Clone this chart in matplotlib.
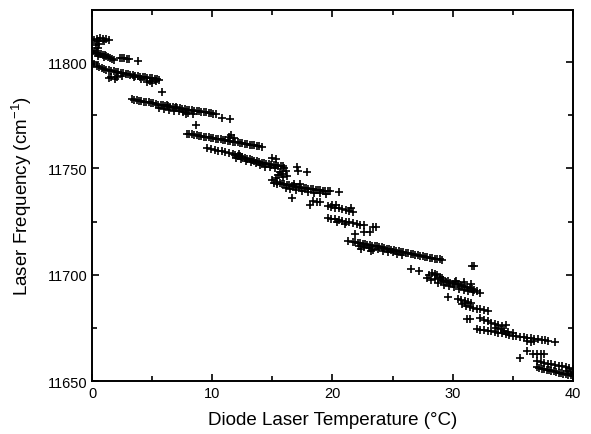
import numpy as np
import matplotlib.pyplot as plt
from matplotlib.ticker import MultipleLocator

plt.rcParams['font.family'] = ['Liberation Sans', 'DejaVu Sans']

# Temperatura (C) y frecuencia (cm-1) por tramo de sintonia
temp_a = [0.2, 0.4, 0.5, 0.7, 0.9, 1.0, 1.2, 1.4, 0.3, 0.6, 0.5]
freq_a = [11810.5, 11811, 11810, 11811.5, 11811, 11810, 11811, 11810.5, 11808, 11808.5, 11806.5]

temp_b = [0.0, 0.15, 0.3, 0.45, 0.6, 0.75, 0.9, 1.05, 1.2, 1.35, 1.5, 1.65, 1.8, 0.5, 1.0,
          2.3, 2.5, 2.7, 2.9, 3.1, 3.8]
freq_b = [11805, 11805, 11804.5, 11804.5, 11804, 11804, 11803.5, 11803.5, 11803, 11802.5, 11802,
          11801.5, 11801, 11803, 11802.5, 11802, 11802, 11801.8, 11801.5, 11801.5, 11800.5]

temp_c = [0.2, 0.4, 0.6, 0.8, 1.0, 1.2, 1.4, 1.6, 1.8, 2.0, 2.2, 2.4, 2.6, 2.8, 3.0, 3.2, 3.4, 3.6,
          3.8, 4.0, 4.2, 4.4, 4.6, 4.8, 5.0, 5.2, 5.4, 5.6,
          1.4, 1.6, 1.9, 2.1, 2.5, 3.5, 4.1, 4.6, 4.8, 5.0, 5.3, 5.8]
freq_c = [11799, 11798, 11797.5, 11797, 11796.8, 11796.5, 11796.2, 11796, 11795.8, 11795.5,
          11795.3, 11795, 11794.8, 11794.5, 11794.3, 11794, 11793.8, 11793.5, 11793.3, 11793.2,
          11793, 11792.8, 11792.6, 11792.5, 11792.3, 11792.2, 11792, 11791.8,
          11792.5, 11793, 11792, 11792.8, 11793.5, 11792.8, 11792, 11790.5, 11791, 11790, 11791.2,
          11786]

temp_d = [3.3, 3.5, 3.7, 3.9, 4.1, 4.3, 4.5, 4.7, 4.9, 5.1, 5.3, 5.5, 5.7, 5.9, 6.1, 6.3, 6.5, 6.7,
          6.9, 7.1, 7.3, 7.5, 7.7, 7.9, 8.1, 8.3, 8.5, 8.7, 8.9, 9.1, 9.3, 9.5, 9.7, 9.9, 10.1, 10.3,
          5.6, 6.0, 6.4, 6.8, 7.2, 7.6, 8.0, 8.4, 6.2, 7.0, 7.8, 10.8, 11.5, 8.65]
freq_d = [11782.5, 11782.3, 11782, 11781.8, 11781.6, 11781.4, 11781.2, 11781, 11780.8, 11780.6,
          11780.3, 11780, 11779.8, 11779.6, 11779.4, 11779.2, 11779, 11778.8, 11778.6, 11778.4,
          11778.2, 11778, 11777.8, 11777.6, 11777.5, 11777.3, 11777.2, 11777, 11776.8, 11776.7,
          11776.5, 11776.3, 11776.2, 11776, 11775.8, 11775.6,
          11778.5, 11778, 11777.5, 11777.2, 11776.8, 11776.5, 11776, 11775.5, 11779.8, 11779,
          11775.8, 11773.7, 11773.2, 11770.4]

temp_e = [7.9, 8.1, 8.3, 8.5, 8.7, 8.9, 9.1, 9.3, 9.5, 9.7, 9.9, 10.1, 10.3, 10.5, 10.7, 10.9,
          11.1, 11.3, 11.5, 11.7, 11.9, 12.1, 12.3, 12.5, 12.7, 12.9, 13.1, 13.3, 13.5, 13.7, 13.9,
          14.1, 11.4, 11.6, 11.8]
freq_e = [11766.3, 11766.1, 11766, 11765.8, 11765.6, 11765.4, 11765.2, 11765, 11764.8, 11764.6,
          11764.4, 11764.2, 11764, 11763.8, 11763.6, 11763.4, 11763.2, 11763, 11762.8, 11762.6,
          11762.4, 11762.2, 11762, 11761.8, 11761.6, 11761.4, 11761.2, 11761, 11760.8, 11760.7,
          11760.5, 11760.3, 11765, 11765.5, 11764.5]

temp_f = [9.6, 9.9, 10.2, 10.5, 10.8, 11.1, 11.4, 11.7, 11.9, 12.1, 12.3, 12.5, 12.7, 12.9, 13.1,
          13.3, 13.5, 13.7, 13.9, 14.1, 14.3, 14.5, 14.7, 14.9, 15.1, 15.3, 15.5, 15.7, 15.9,
          12.0, 12.4, 12.8, 13.2, 13.6, 14.0, 14.4, 14.8, 15.2, 12.2, 15.0, 15.3,
          17.05, 17.1, 17.9]
freq_f = [11759.8, 11759.3, 11758.8, 11758.4, 11758, 11757.6, 11757.2, 11756.8, 11756.4, 11756,
          11755.6, 11755.3, 11755, 11754.6, 11754.3, 11754, 11753.6, 11753.3, 11753, 11752.7,
          11752.4, 11752.2, 11752, 11751.8, 11751.6, 11751.4, 11751.2, 11751.1, 11751,
          11755, 11754.5, 11753.5, 11752.8, 11752.5, 11751.5, 11750.8, 11750.5, 11750.2, 11757,
          11755, 11754.5, 11750.7, 11748.8, 11748.3]

temp_g = [15.0, 15.1, 15.3, 15.5, 15.6, 15.8, 15.9, 16.1, 16.2, 15.4, 16.0]
freq_g = [11744.5, 11743, 11745.5, 11747, 11748.5, 11747.5, 11746, 11749, 11746.5, 11742.5, 11750]

temp_h = [15.4, 15.6, 15.8, 16.0, 16.2, 16.4, 16.6, 16.8, 17.0, 17.2, 17.4, 17.6, 17.8, 18.0, 18.2,
          18.4, 18.6, 18.8, 19.0, 19.2, 19.4, 19.6, 19.8, 20.5,
          16.1, 16.5, 17.0, 17.5, 18.0, 18.5, 19.0, 19.5, 16.8, 17.3,
          16.6, 18.1, 18.4, 18.7, 19.0]
freq_h = [11743.5, 11743, 11742.7, 11742.5, 11742.2, 11742, 11741.8, 11741.6, 11741.4, 11741.2,
          11741, 11740.8, 11740.7, 11740.5, 11740.3, 11740.2, 11740, 11739.9, 11739.7, 11739.6,
          11739.5, 11739.3, 11739.2, 11739,
          11741, 11740.5, 11740, 11739.5, 11739, 11738.5, 11738.3, 11738, 11742.8, 11742.5,
          11736, 11732.8, 11734.5, 11734.2, 11734.3]

temp_i = [19.6, 19.9, 20.2, 20.5, 20.8, 21.1, 21.4, 21.7, 20.3, 21.5, 20.0]
freq_i = [11732.3, 11731.8, 11731.5, 11731.2, 11731, 11730.5, 11730, 11729.5, 11733, 11731.3, 11732.8]

temp_j = [19.6, 19.9, 20.2, 20.5, 20.8, 21.1, 21.4, 21.7, 22.0, 22.3, 22.6, 20.4, 21.0,
          23.4, 23.6, 21.9, 22.6, 23.1, 21.3]
freq_j = [11726.7, 11726.3, 11726, 11725.6, 11725.3, 11725, 11724.6, 11724.2, 11723.9, 11723.6,
          11723.3, 11724.8, 11724, 11722.6, 11722.3, 11719, 11720, 11720, 11715.8]

temp_k = [21.7, 21.9, 22.1, 22.3, 22.5, 22.7, 22.9, 23.1, 23.3, 23.5, 23.7, 23.9, 24.1, 24.3, 24.5,
          24.7, 24.9, 25.1, 25.3, 25.5, 25.7, 25.9, 26.1, 26.3, 26.5, 26.7, 26.9, 27.1, 27.3, 27.5,
          27.7, 27.9, 28.1, 28.3, 28.5, 28.7, 28.9, 29.1,
          22.2, 22.6, 23.0, 23.4, 23.8, 24.2, 24.6, 25.0, 25.4, 25.8, 22.4, 23.2,
          26.5, 27.2, 31.6, 31.8]
freq_k = [11715.4, 11715.2, 11715, 11714.8, 11714.6, 11714.3, 11714.1, 11713.9, 11713.7, 11713.5,
          11713.3, 11713, 11712.8, 11712.5, 11712.3, 11712, 11711.8, 11711.6, 11711.3, 11711,
          11710.8, 11710.6, 11710.3, 11710.1, 11709.9, 11709.7, 11709.5, 11709.2, 11709, 11708.8,
          11708.5, 11708.3, 11708, 11707.8, 11707.6, 11707.4, 11707.2, 11707,
          11713.5, 11712.8, 11712.5, 11711.8, 11712, 11711, 11710.8, 11710.5, 11709.8, 11709.5,
          11712, 11711, 11702.7, 11701.7, 11704, 11704.3]

temp_l = [27.9, 28.2, 28.0, 28.3, 28.5, 28.7, 28.5, 28.9, 29.0, 28.8, 29.2, 29.4, 29.6, 29.8, 30.0,
          30.2, 30.4, 30.6, 30.8, 31.0, 31.2, 31.4, 31.6, 31.8, 32.0, 32.3, 29.3, 29.7, 30.1, 30.5,
          30.9, 31.3, 31.7, 29.1, 30.3, 30.9, 31.5, 29.6]
freq_l = [11698.5, 11697.5, 11700, 11701, 11700.5, 11699.8, 11698, 11699, 11697, 11696, 11697.5,
          11696.5, 11697, 11696, 11695.8, 11696.5, 11695.5, 11695, 11694.5, 11694.2, 11694,
          11693.8, 11693.5, 11693, 11692.5, 11691.5, 11695, 11694.5, 11694, 11693.5, 11693,
          11692.5, 11692, 11698.5, 11697.2, 11696.5, 11695.5, 11689.5]

temp_m = [30.4, 30.7, 31.0, 31.3, 31.1, 31.4, 31.7, 32.0, 32.3, 32.6, 32.9, 31.0, 30.8, 31.5,
          31.2, 31.4]
freq_m = [11688.5, 11688, 11687.5, 11687, 11685.5, 11685, 11684.5, 11684, 11683.8, 11683.5, 11683,
          11686.5, 11686, 11686.5, 11679, 11679.2]

temp_n = [32.3, 32.6, 32.9, 33.2, 33.5, 33.8, 34.1, 34.4,
          32.0, 32.3, 32.6, 32.9, 33.2, 33.5, 33.8, 34.1, 34.4, 34.7, 35.0, 35.3, 35.6, 35.9, 36.2,
          36.5, 36.8, 37.1, 37.4, 37.7, 37.9,
          33.6, 34.0, 34.3, 34.6, 35.0, 36.2, 36.5, 36.8, 38.5]
freq_n = [11679.5, 11678.5, 11678, 11677.5, 11677, 11676.5, 11676, 11676.2,
          11674.5, 11674.2, 11673.9, 11673.6, 11673.3, 11673, 11672.7, 11672.4, 11672, 11671.6,
          11671.3, 11671, 11670.7, 11670.5, 11670.2, 11670, 11669.8, 11669.6, 11669.4, 11669.2,
          11669,
          11675, 11674.5, 11673.5, 11673, 11672.5, 11669, 11668.5, 11669, 11668.5]

temp_o = [35.6, 36.2, 36.7, 37.0, 37.3, 37.6, 37.0,
          37.3, 37.6, 37.9, 38.2, 38.5, 38.8, 39.1, 39.4, 39.7, 40.0,
          37.0, 37.2, 37.4, 37.6, 37.8, 38.0, 38.2, 38.4, 38.6, 38.8, 39.0, 39.2, 39.4, 39.6, 39.8,
          40.0, 39.5, 39.8]
freq_o = [11661, 11664, 11662.7, 11662.7, 11662.5, 11662.7, 11659.4,
          11659, 11658.5, 11658.2, 11658, 11657.5, 11657.2, 11657, 11656.5, 11656, 11655.6,
          11656.5, 11656, 11655.8, 11655.5, 11655.2, 11655, 11654.8, 11654.5, 11654.2, 11654,
          11653.7, 11653.5, 11653.2, 11653, 11652.7, 11652.4, 11654.5, 11654]

temperatura = np.concatenate([temp_a, temp_b, temp_c, temp_d, temp_e, temp_f, temp_g, temp_h,
                              temp_i, temp_j, temp_k, temp_l, temp_m, temp_n, temp_o])
frecuencia = np.concatenate([freq_a, freq_b, freq_c, freq_d, freq_e, freq_f, freq_g, freq_h,
                             freq_i, freq_j, freq_k, freq_l, freq_m, freq_n, freq_o])

fig = plt.figure(figsize=(5.91, 4.35), dpi=100)
ax = fig.add_axes([0.1557, 0.1218, 0.8138, 0.8529])

ax.plot(temperatura, frecuencia, linestyle='none', marker='+', color='black',
        markersize=5.5, markeredgewidth=1.2)

ax.set_xlim(0, 40)
ax.set_ylim(11650, 11824.5)
ax.xaxis.set_major_locator(MultipleLocator(10))
ax.xaxis.set_minor_locator(MultipleLocator(5))
ax.yaxis.set_major_locator(MultipleLocator(50))
ax.yaxis.set_minor_locator(MultipleLocator(25))
ax.tick_params(which='both', direction='in', top=True, right=True, width=1.2, labelsize=10.5)
ax.tick_params(which='major', length=5)
ax.tick_params(which='minor', length=3.5)
for spine in ax.spines.values():
    spine.set_linewidth(1.4)

ax.set_xlabel('Diode Laser Temperature (\u00b0C)', fontsize=13.5, labelpad=8)
ax.set_ylabel('Laser Frequency (cm$^{\\mathregular{-1}}$)', fontsize=13.5, labelpad=10)

fig.savefig('out.png', dpi=100)
